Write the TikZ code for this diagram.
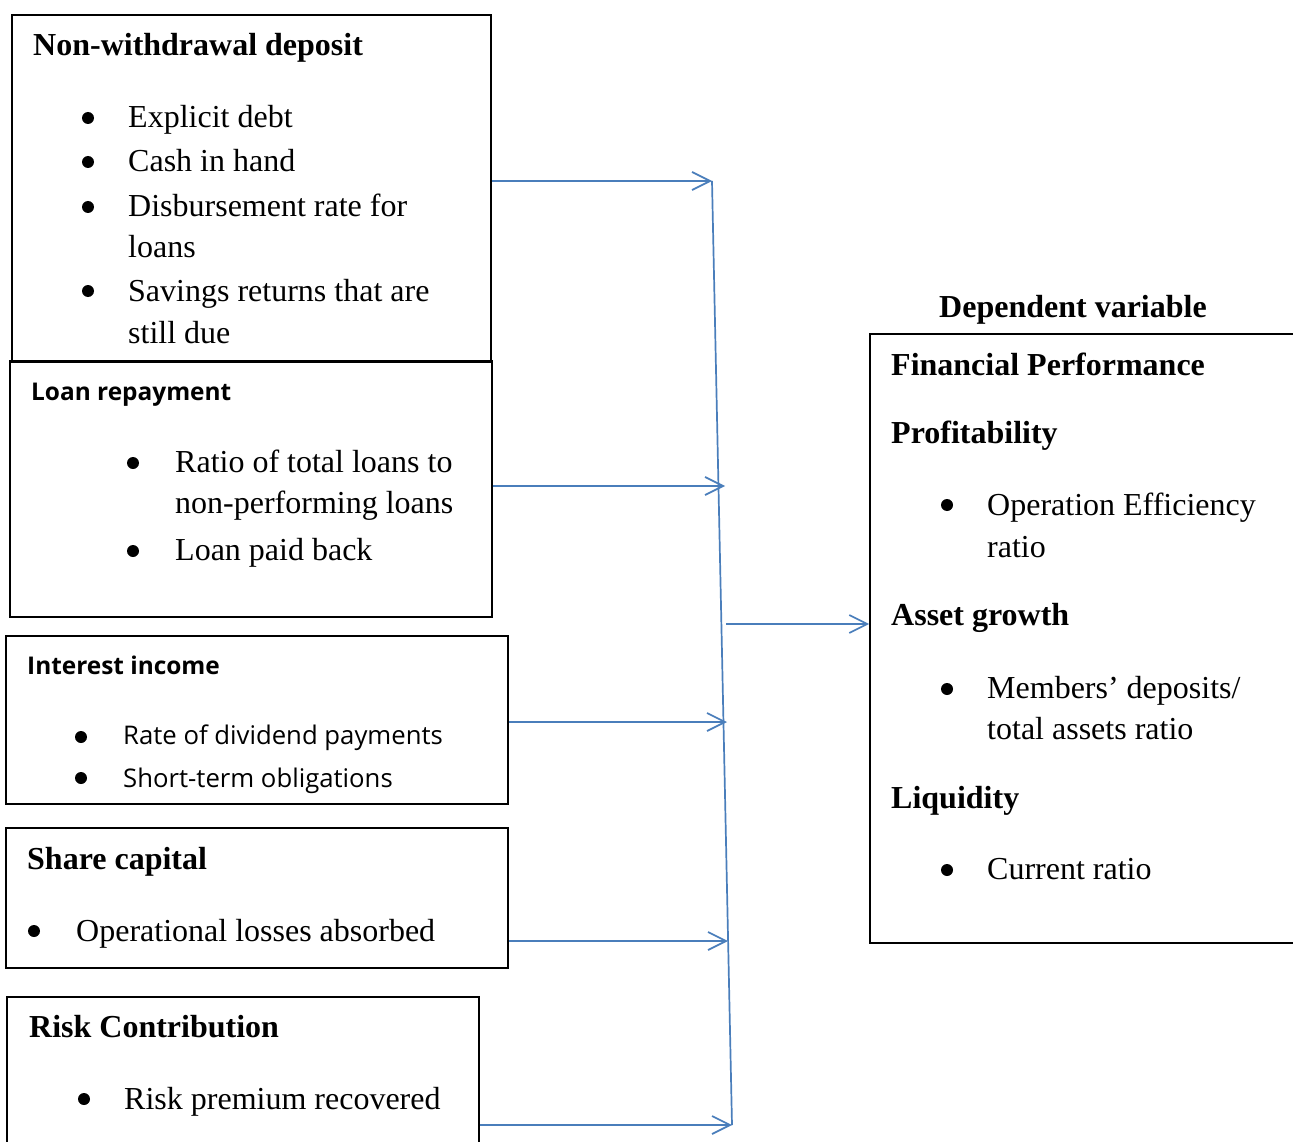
\documentclass[tikz,border=0pt]{standalone}
\usepackage{fontspec}
\setmainfont{Liberation Serif}
\newfontfamily\opensans{Open Sans}
\usetikzlibrary{arrows.meta}
\definecolor{linkblue}{HTML}{4A7EBB}

\begin{document}
\begin{tikzpicture}[x=1pt,y=-1pt,
  box/.style={draw,line width=1.7pt,inner sep=0pt},
  txt/.style={anchor=base west,inner sep=0pt,font=\fontsize{32}{44}\selectfont},
  hd/.style={anchor=base west,inner sep=0pt,font=\fontsize{32}{44}\selectfont\bfseries},
  sanshd/.style={anchor=base west,inner sep=0pt,font=\fontsize{24.4}{34}\selectfont\opensans\bfseries},
  sanstxt/.style={anchor=base west,inner sep=0pt,font=\fontsize{25.7}{36}\selectfont\opensans},
  dot/.style={circle,fill,inner sep=0pt,minimum size=12pt},
  link/.style={draw=linkblue,line width=1.7pt,-{Straight Barb[length=18pt,width=18pt]}}]
  \useasboundingbox (0,0) rectangle (1293,1142);

  \node[box,minimum width=479pt,minimum height=347pt] (nwd)   at (251.5,188.5) {};
  \node[box,minimum width=482pt,minimum height=256pt] (loan)  at (251,489) {};
  \node[box,minimum width=502pt,minimum height=168pt] (intr)  at (257,720) {};
  \node[box,minimum width=502pt,minimum height=140pt] (shcap) at (257,898) {};
  \node[box,minimum width=472pt,minimum height=163pt] (risk)  at (243,1078.5) {};
  \node[box,minimum width=430pt,minimum height=609pt] (fp)    at (1085,638.5) {};

  \node[hd]  (nwdhd) at (33,56)  {Non-withdrawal deposit};
  \node[dot] (nwdb1) at (88,118) {};
  \node[txt] (nwd1)  at (128,128) {Explicit debt};
  \node[dot] (nwdb2) at (88,162) {};
  \node[txt] (nwd2)  at (128,172) {Cash in hand};
  \node[dot] (nwdb3) at (88,207) {};
  \node[txt] (nwd3)  at (128,217) {Disbursement rate for};
  \node[txt] (nwd3b) at (128,258) {loans};
  \node[dot] (nwdb4) at (88,291) {};
  \node[txt] (nwd4)  at (128,301) {Savings returns that are};
  \node[txt] (nwd4b) at (128,343) {still due};

  \node[sanshd] (loanhd) at (31,400) {Loan repayment};
  \node[dot]    (loanb1) at (133,463) {};
  \node[txt]    (loan1)  at (175,472) {Ratio of total loans to};
  \node[txt]    (loan1b) at (175,513) {non-performing loans};
  \node[dot]    (loanb2) at (133,551) {};
  \node[txt]    (loan2)  at (175,560) {Loan paid back};

  \node[sanshd]  (intrhd) at (27,674) {Interest income};
  \node[dot]     (intrb1) at (81,737) {};
  \node[sanstxt] (intr1)  at (123,744) {Rate of dividend payments};
  \node[dot]     (intrb2) at (81,778) {};
  \node[sanstxt] (intr2)  at (123,787) {Short-term obligations};

  \node[hd]  (shcaphd) at (27,869) {Share capital};
  \node[dot] (shcapb1) at (34,931) {};
  \node[txt] (shcap1)  at (76,941) {Operational losses absorbed};

  \node[hd]  (riskhd) at (29,1037) {Risk Contribution};
  \node[dot] (riskb1) at (84,1099) {};
  \node[txt] (risk1)  at (124,1109) {Risk premium recovered};

  \node[hd]  (dephd) at (939,317) {Dependent variable};
  \node[hd]  (fphd)  at (891,375) {Financial Performance};
  \node[hd]  (prof)  at (891,443) {Profitability};
  \node[dot] (profb) at (947,505) {};
  \node[txt] (prof1) at (987,515) {Operation Efficiency};
  \node[txt] (prof2) at (987,557) {ratio};
  \node[hd]  (asset) at (891,625) {Asset growth};
  \node[dot] (assetb) at (947,689) {};
  \node[txt] (asset1) at (987,698) {Members’ deposits/};
  \node[txt] (asset2) at (987,739) {total assets ratio};
  \node[hd]  (liq)   at (891,808) {Liquidity};
  \node[dot] (liqb)  at (947,870) {};
  \node[txt] (liq1)  at (987,879) {Current ratio};

  \coordinate (t1)  at (712,181);
  \coordinate (t2)  at (725,486);
  \coordinate (t3)  at (727,722);
  \coordinate (t4)  at (728,941);
  \coordinate (t5)  at (732,1125);
  \coordinate (out) at (726,624);
  \draw[linkblue,line width=1.7pt] (t1) -- (t5);
  \draw[link] (nwd.east |- t1)   -- (t1);
  \draw[link] (loan.east |- t2)  -- (t2);
  \draw[link] (intr.east |- t3)  -- (t3);
  \draw[link] (shcap.east |- t4) -- (t4);
  \draw[link] (risk.east |- t5)  -- (t5);
  \draw[link] (out) -- (fp.west |- out);
\end{tikzpicture}
\end{document}
